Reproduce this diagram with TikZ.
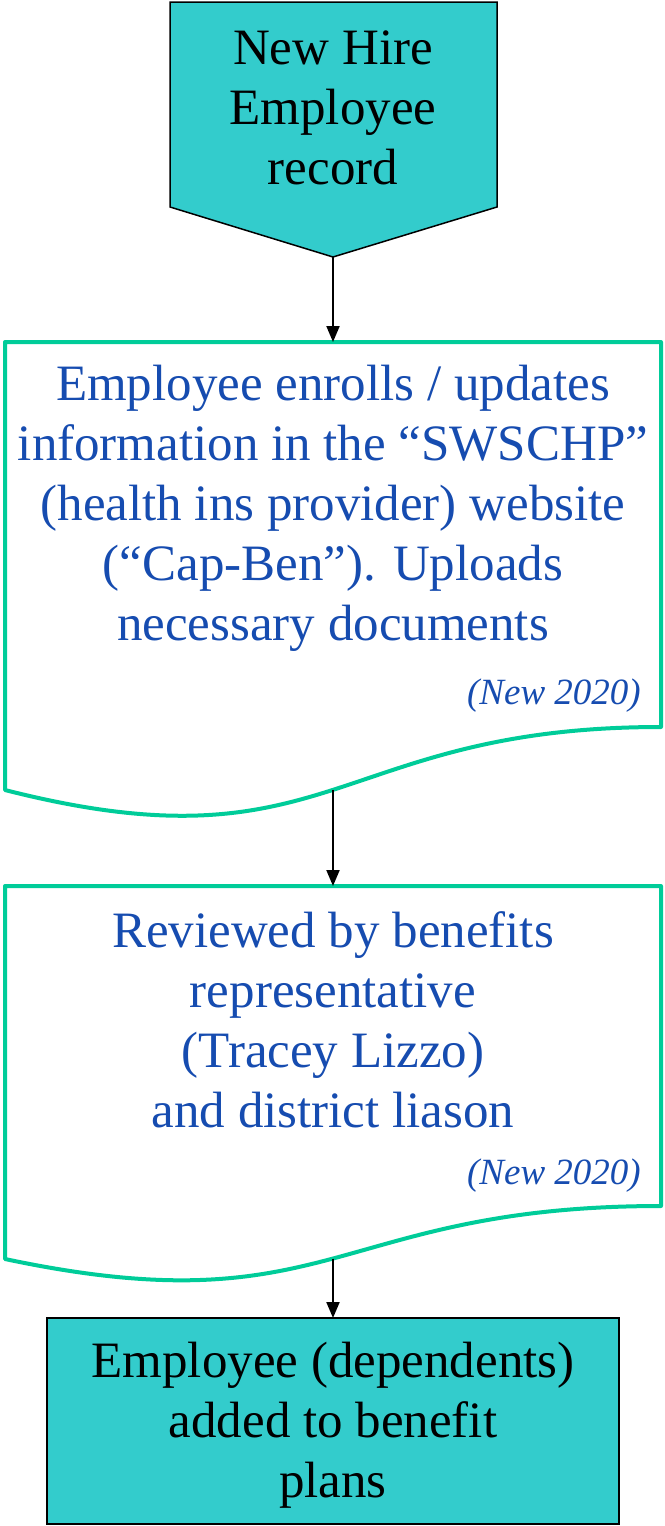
\documentclass[tikz,border=0pt]{standalone}
\usepackage{fontspec}
\setmainfont{Liberation Serif}
\usetikzlibrary{arrows.meta}
\definecolor{tealfill}{RGB}{51,204,204}
\definecolor{docline}{RGB}{0,204,153}
\definecolor{bluetext}{RGB}{22,76,176}
\tikzset{
  bigtext/.style={font=\fontsize{51}{60}\selectfont, align=center, inner sep=0pt},
  notetext/.style={font=\fontsize{37}{40}\selectfont\itshape, text=bluetext, inner sep=0pt, anchor=east},
  docshape/.style={draw=docline, line width=4pt, line join=round, fill=white},
  flowarrow/.style={draw=black, line width=2pt, -{Triangle[length=16pt,width=13pt]}, shorten >=0pt},
}
\begin{document}
\begin{tikzpicture}[x=1pt,y=-1pt]
\useasboundingbox (0,0) rectangle (664,1526);
% top pentagon (off-page connector)
\draw[fill=tealfill, draw=black, line width=1.5pt, line join=miter]
  (170,2) -- (497,2) -- (497,207) -- (333,257) -- (170,207) -- cycle;
\coordinate (p1) at (333,257);
\node[bigtext] (start) at (333,108) {New Hire\\Employee\\record};

% document 1
\draw[docshape] (5,342) -- (661,342) -- (661,727)
  .. controls (333,727) and (333,873.6) .. (5,790) -- cycle;
\coordinate (d1top) at (333,342);
\coordinate (d1bot) at (333,789.8);
\node[bigtext, text=bluetext] (enroll) at (333,508)
  {Employee enrolls / updates\\information in the “SWSCHP”\\(health ins provider) website\\(“Cap-Ben”). Uploads\\necessary documents};
\node[notetext] (note1) at (641,696) {(New 2020)};

% document 2
\draw[docshape] (5,886) -- (661,886) -- (661,1206)
  .. controls (333,1206) and (333,1328.4) .. (5,1259) -- cycle;
\coordinate (d2top) at (333,886);
\coordinate (d2bot) at (333,1258.5);
\node[bigtext, text=bluetext] (review) at (333,1020)
  {Reviewed by benefits\\representative\\(Tracey Lizzo)\\and district liason};
\node[notetext] (note2) at (641,1176) {(New 2020)};

% final box
\draw[fill=tealfill, draw=black, line width=1.5pt] (47,1318) rectangle (619,1524);
\coordinate (bxtop) at (333,1318);
\node[bigtext] (added) at (333,1425) {Employee (dependents)\\added to benefit\\plans};

% connectors
\draw[flowarrow] (p1) -- (d1top);
\draw[flowarrow] (d1bot) -- (d2top);
\draw[flowarrow] (d2bot) -- (bxtop);
\end{tikzpicture}
\end{document}
